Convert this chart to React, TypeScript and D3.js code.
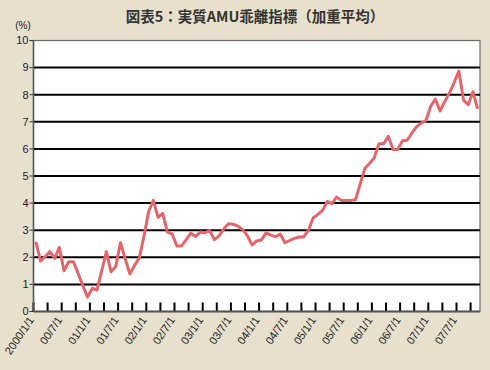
import { useMemo } from "react";
import * as d3 from "d3";

const WIDTH = 490;
const HEIGHT = 370;
const PLOT = { left: 33.5, right: 480, top: 40.5, bottom: 311.5 };

const TITLE = "図表5：実質AMU乖離指標（加重平均）";
const UNIT = "(%)";

// monthly, 2000/1 .. 2007/11
const values = [
  2.57, 1.86, 2.03, 2.21, 1.96, 2.37, 1.5, 1.84, 1.84, 1.4, 0.95, 0.53,
  0.86, 0.79, 1.5, 2.21, 1.47, 1.66, 2.54, 1.95, 1.39, 1.7, 1.97, 2.77,
  3.69, 4.1, 3.47, 3.62, 2.93, 2.86, 2.42, 2.42, 2.65, 2.89, 2.77, 2.93,
  2.91, 2.98, 2.65, 2.8, 3.05, 3.24, 3.22, 3.15, 3.02, 2.8, 2.46, 2.6,
  2.64, 2.9, 2.82, 2.76, 2.86, 2.54, 2.62, 2.7, 2.75, 2.75, 3.0, 3.45,
  3.58, 3.73, 4.06, 3.98, 4.22, 4.1, 4.1, 4.1, 4.12, 4.7, 5.28, 5.46,
  5.67, 6.19, 6.19, 6.46, 5.98, 5.98, 6.3, 6.32, 6.58, 6.82, 6.95, 7.05,
  7.57, 7.84, 7.4, 7.75, 8.06, 8.45, 8.87, 7.8, 7.63, 8.11, 7.48,
];

const xLabels = [
  "2000/1/1", "00/7/1", "01/1/1", "01/7/1", "02/1/1", "02/7/1", "03/1/1", "03/7/1",
  "04/1/1", "04/7/1", "05/1/1", "05/7/1", "06/1/1", "06/7/1", "07/1/1", "07/7/1",
];
const yTicks = [0, 1, 2, 3, 4, 5, 6, 7, 8, 9, 10];

const TICK_EVERY = 3;
const LABEL_EVERY = 6;

const LINE_COLOR = "#e2666b";
const BG = "#e7e0cd";
const FONT = "Arial, 'Liberation Sans', sans-serif";

export default function App() {
  const categories = values.map((_, i) => i);

  const xScale = useMemo(
    () => d3.scaleBand<number>().domain(categories).range([PLOT.left, PLOT.right]).padding(0),
    []
  );
  const yScale = useMemo(
    () => d3.scaleLinear().domain([0, 10]).range([PLOT.bottom, PLOT.top]),
    []
  );

  const lineBuilder = d3
    .line<number>()
    .x((_, i) => (xScale(i) ?? 0) + xScale.bandwidth() / 2)
    .y((d) => yScale(d));
  const linePath = lineBuilder(values) || "";

  // tick marks sit on category boundaries
  const tickIdx = d3.range(0, values.length, TICK_EVERY);

  return (
    <svg
      width={WIDTH}
      height={HEIGHT}
      style={{ position: "absolute", left: 0, top: 0 }}
      fontFamily={FONT}
    >
      <rect x={0} y={0} width={WIDTH} height={HEIGHT} fill={BG} />

      <text
        x={255}
        y={22}
        textAnchor="middle"
        fontSize={14.5}
        fontWeight="bold"
        fill="#333"
        fontFamily="'Noto Sans CJK JP', sans-serif"
      >
        {TITLE}
      </text>
      <text x={23} y={29} textAnchor="middle" fontSize={10} fill="#222">
        {UNIT}
      </text>

      <rect
        x={PLOT.left}
        y={PLOT.top}
        width={PLOT.right - PLOT.left}
        height={PLOT.bottom - PLOT.top}
        fill="#fff"
        stroke="#6b6b6b"
        strokeWidth={1.2}
      />

      {/* gridlines + y axis labels */}
      {yTicks.map((t) => (
        <g key={t}>
          {t > 0 && t < 10 && (
            <line
              x1={PLOT.left}
              x2={PLOT.right}
              y1={yScale(t)}
              y2={yScale(t)}
              stroke="#000"
              strokeWidth={2}
            />
          )}
          <line x1={PLOT.left - 4} x2={PLOT.left} y1={yScale(t)} y2={yScale(t)} stroke="#333" strokeWidth={1} />
          <text
            x={PLOT.left - 5}
            y={yScale(t)}
            dy="0.35em"
            textAnchor="end"
            fontSize={11}
            fill="#222"
          >
            {t}
          </text>
        </g>
      ))}

      {/* x axis ticks (inside) */}
      {tickIdx.map((i) => {
        const x = xScale(i) ?? 0;
        return (
          <line key={i} x1={x} x2={x} y1={PLOT.bottom} y2={PLOT.bottom - 9} stroke="#000" strokeWidth={2} />
        );
      })}
      <line x1={PLOT.left} x2={PLOT.right} y1={PLOT.bottom} y2={PLOT.bottom} stroke="#555" strokeWidth={2} />
      <line x1={PLOT.left} x2={PLOT.left} y1={PLOT.top} y2={PLOT.bottom} stroke="#555" strokeWidth={1.5} />

      {xLabels.map((lab, k) => {
        const x = (xScale(k * LABEL_EVERY) ?? 0) + 1;
        const y = 320;
        return (
          <text
            key={lab}
            x={x}
            y={y}
            transform={`rotate(-56, ${x}, ${y})`}
            textAnchor="end"
            fontSize={11}
            fill="#222"
          >
            {lab}
          </text>
        );
      })}

      <path
        d={linePath}
        fill="none"
        stroke={LINE_COLOR}
        strokeWidth={3}
        strokeLinejoin="round"
      />
    </svg>
  );
}
